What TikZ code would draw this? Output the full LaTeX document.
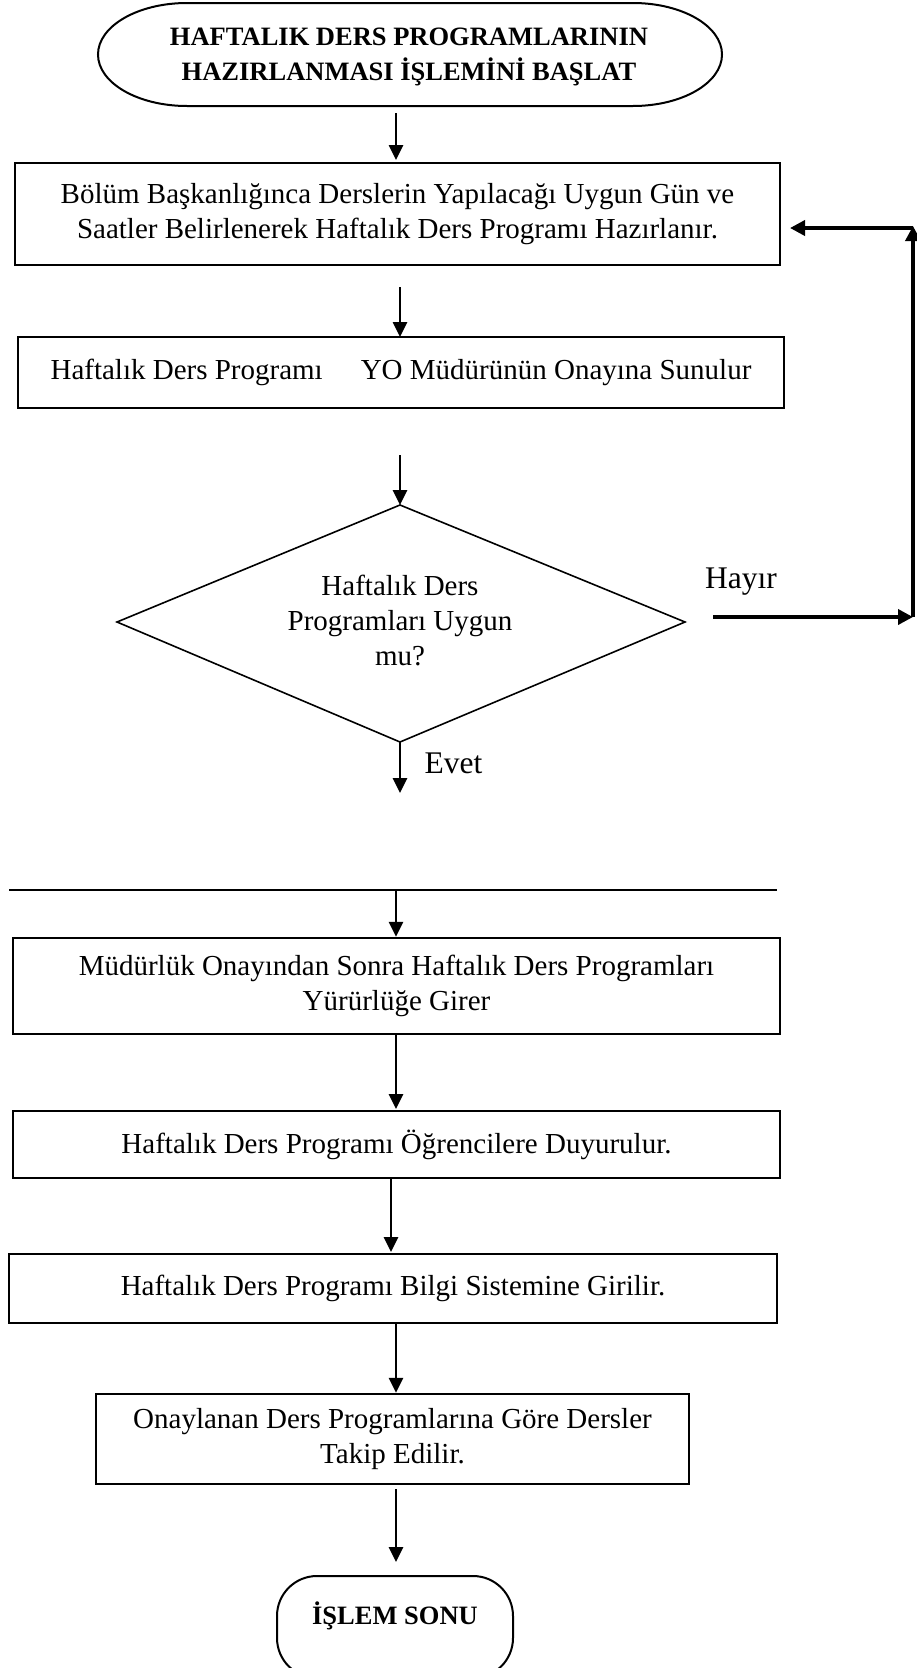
\documentclass[tikz,border=0pt]{standalone}
\usepackage{fontspec}
\setmainfont{Liberation Serif}
\usetikzlibrary{arrows.meta}
\begin{document}
\begin{tikzpicture}[x=1pt,y=-1pt,
  txt/.style={font=\fontsize{29}{35}\selectfont, align=center},
  boldtxt/.style={font=\fontsize{26.5}{35}\selectfont\bfseries, align=center},
  lbl/.style={font=\fontsize{31.5}{36}\selectfont},
  procbox/.style={draw, line width=2.4pt, rectangle, inner sep=0pt, txt},
  flow/.style={-{Triangle[length=15pt,width=14pt]}, line width=2.6pt},
  loopline/.style={-{Triangle[length=15pt,width=15pt]}, line width=3.6pt},
]
\useasboundingbox (0,0) rectangle (916,1668);

% start terminator
\draw[line width=2pt] (187,3) -- (633,3)
  arc[start angle=-90,end angle=90,x radius=89,y radius=51.5]
  -- (187,106)
  arc[start angle=90,end angle=270,x radius=89,y radius=51.5] -- cycle;
\node[boldtxt] (start) at (409,57) {HAFTALIK DERS PROGRAMLARININ\\HAZIRLANMASI İŞLEMİNİ BAŞLAT};
\coordinate (startbot) at (396,113);

% process boxes
\node[procbox, minimum width=765, minimum height=102] (b1) at (397.5,214)
  {Bölüm Başkanlığınca Derslerin Yapılacağı Uygun Gün ve\\Saatler Belirlenerek Haftalık Ders Programı Hazırlanır.};
\node[procbox, minimum width=766, minimum height=71] (b2) at (401,372.5)
  {Haftalık Ders Programı\hspace{38pt}YO Müdürünün Onayına Sunulur};

% decision
\coordinate (dtop) at (400,505);
\coordinate (dright) at (685,622);
\coordinate (dbot) at (400,742);
\coordinate (dleft) at (117,622);
\draw[line width=1.6pt] (dtop) -- (dright) -- (dbot) -- (dleft) -- cycle;
\node[txt] (dec) at (400,620) {Haftalık Ders\\Programları Uygun\\mu?};

% "no" branch back to the first box
\coordinate (hA) at (713,617);
\coordinate (hB) at (913,617);
\coordinate (hC) at (913,226);
\coordinate (hD) at (913,228);
\coordinate (hE) at (790,228);
\draw[loopline] (hA) -- (hB);
\draw[loopline] (hB) -- (hC);
\draw[loopline] (hD) -- (hE);
\node[lbl, anchor=base] (hayir) at (741,588) {Hayır};

% "yes" branch
\coordinate (evetend) at (400,793);
\node[lbl, anchor=base west] (evet) at (421,773) {Evet};

% separator line
\coordinate (sepL) at (9,890);
\coordinate (sepR) at (777,890);
\draw[line width=1.2pt] (sepL) -- (sepR);
\coordinate (sepmid) at (396,890);

\node[procbox, minimum width=767, minimum height=96] (b3) at (396.5,986)
  {Müdürlük Onayından Sonra Haftalık Ders Programları\\Yürürlüğe Girer};
\node[procbox, minimum width=767, minimum height=67] (b4) at (396.5,1144.5)
  {Haftalık Ders Programı Öğrencilere Duyurulur.};
\node[procbox, minimum width=768, minimum height=69] (b5) at (393,1288.5)
  {Haftalık Ders Programı Bilgi Sistemine Girilir.};
\node[procbox, minimum width=593, minimum height=90] (b6) at (392.5,1439)
  {Onaylanan Ders Programlarına Göre Dersler\\Takip Edilir.};

% end terminator (runs off the lower edge)
\begin{scope}
\clip (0,0) rectangle (916,1668);
\draw[line width=2pt, rounded corners=40pt] (277,1576) rectangle (513,1678);
\end{scope}
\node[boldtxt] (finish) at (395,1616) {İŞLEM SONU};
\coordinate (finishtop) at (396,1562);

% connectors
\draw[flow] (startbot) -- (396,160);
\draw[flow] (400,287) -- (400,337);
\draw[flow] (400,455) -- (dtop);
\draw[flow] (dbot) -- (evetend);
\draw[flow] (sepmid) -- (b3.north -| sepmid);
\draw[flow] (b3.south -| sepmid) -- (396,1109);
\draw[flow] (b4.south -| 391,0) -- (391,1252);
\draw[flow] (b5.south -| sepmid) -- (b6.north -| sepmid);
\draw[flow] (396,1489) -- (finishtop);
\end{tikzpicture}
\end{document}
